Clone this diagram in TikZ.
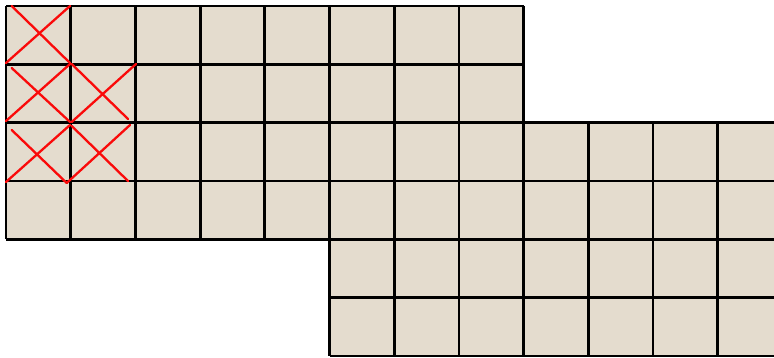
\documentclass[tikz,border=0pt]{standalone}
\definecolor{tile}{RGB}{228,220,206}
\definecolor{xred}{RGB}{250,10,10}
\tikzset{
  gridline/.style={line width=2.8pt, black},
  cross/.style={line width=2.3pt, xred, line cap=round}
}
\begin{document}
\begin{tikzpicture}[x=1pt,y=-1pt]
\useasboundingbox (0,0) rectangle (774,358);
\clip (0,0) rectangle (774,358);
% tile areas
\fill[tile] (6,6) rectangle (523.6,239.3);
\fill[tile] (329.5,122.7) rectangle (782.4,356);
% left block grid
\foreach \i in {0,...,8} {
  \draw[gridline] ({6+64.7*\i},6) -- ({6+64.7*\i},239.3);
}
\foreach \j in {0,...,4} {
  \draw[gridline] (6,{6+58.33*\j}) -- (523.6,{6+58.33*\j});
}
% right block grid
\foreach \i in {0,...,7} {
  \draw[gridline] ({329.5+64.7*\i},122.7) -- ({329.5+64.7*\i},356);
}
\foreach \j in {2,...,6} {
  \draw[gridline] (329.5,{6+58.33*\j}) -- (782.4,{6+58.33*\j});
}
% red crosses
\draw[cross] (11.7,6) -- (70,63);
\draw[cross] (70,6) -- (6,63);
\draw[cross] (11.7,68) -- (70,122);
\draw[cross] (6,121) -- (70,64);
\draw[cross] (71.7,64) -- (128,119);
\draw[cross] (71.7,122) -- (136,64);
\draw[cross] (11.7,130) -- (66.7,183);
\draw[cross] (6,182) -- (70,125);
\draw[cross] (66.7,183) -- (130,125);
\draw[cross] (71.7,126) -- (128,181);
\end{tikzpicture}
\end{document}
